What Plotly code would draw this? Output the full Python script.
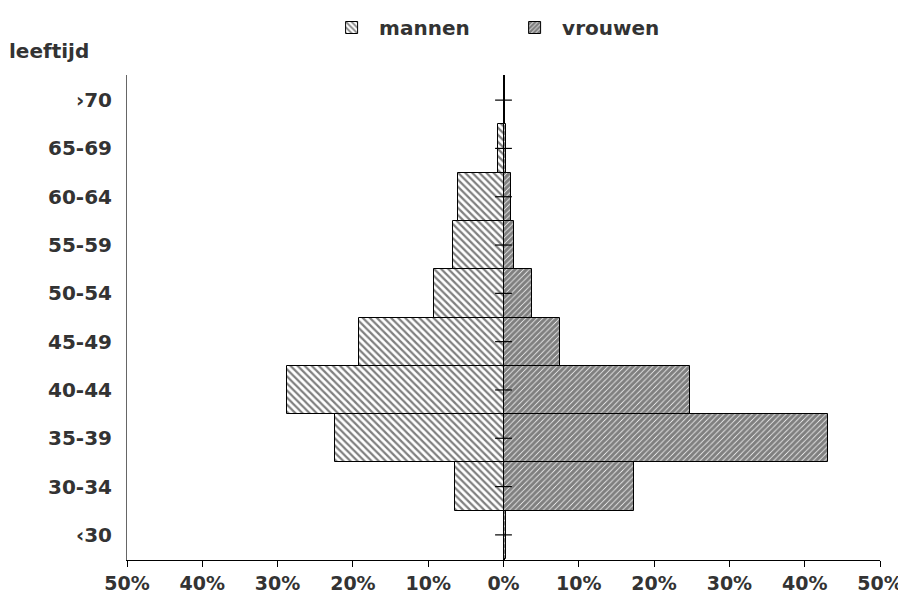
import plotly.graph_objects as go

categories = ["‹30", "30-34", "35-39", "40-44", "45-49", "50-54", "55-59", "60-64", "65-69", "›70"]
mannen = [0.0, 6.5, 22.4, 28.7, 19.2, 9.2, 6.7, 6.0, 0.7, 0.0]
vrouwen = [0.3, 17.3, 43.1, 24.8, 7.5, 3.8, 1.4, 1.0, 0.3, 0.0]
x_ticks = [-50, -40, -30, -20, -10, 0, 10, 20, 30, 40, 50]
x_ticktext = ["50%", "40%", "30%", "20%", "10%", "0%", "10%", "20%", "30%", "40%", "50%"]

FONT = "DejaVu Sans"
TXT = "#333333"

fig = go.Figure()
fig.add_trace(go.Bar(
    y=categories, x=[-v for v in mannen], orientation="h", name="mannen",
    marker=dict(color="white", line=dict(color="black", width=1),
                pattern=dict(shape="\\", size=5, solidity=0.45, fgcolor="black", bgcolor="white")),
))
fig.add_trace(go.Bar(
    y=categories, x=vrouwen, orientation="h", name="vrouwen",
    marker=dict(color="white", line=dict(color="black", width=1),
                pattern=dict(shape="/", size=4, solidity=0.8, fgcolor="black", bgcolor="white")),
))
fig.add_trace(go.Scatter(
    y=categories, x=[0] * len(categories), mode="markers", showlegend=False,
    marker=dict(symbol="line-ew", size=12, line=dict(color="black", width=1.2)),
    hoverinfo="skip",
))

# page body has an 8px default margin: compensate so the plot lands where the reference has it
fig.update_layout(
    width=898, height=596,
    margin=dict(l=119, r=26, t=67, b=44),
    paper_bgcolor="white", plot_bgcolor="white",
    barmode="relative", bargap=0,
    font=dict(family=FONT, size=17, color=TXT),
    legend=dict(orientation="h", x=0.352, xanchor="left", xref="container",
                y=1.0, yanchor="top", yref="container",
                font=dict(family=FONT, size=20, color=TXT, weight="bold"),
                itemwidth=45, entrywidth=123, entrywidthmode="pixels",
                traceorder="normal"),
    xaxis=dict(range=[-50, 50], tickvals=x_ticks, ticktext=x_ticktext,
               showgrid=False, zeroline=True, zerolinecolor="black", zerolinewidth=2,
               showline=True, linecolor="black", linewidth=1, automargin=False,
               ticks="outside", ticklen=6, tickcolor="black", ticklabelstandoff=0,
               tickfont=dict(family=FONT, size=19, color=TXT, weight="bold")),
    yaxis=dict(type="category", range=[-0.52, 9.52], showgrid=False, automargin=False,
               showline=True, linecolor="#666666", linewidth=1,
               ticks="", ticklabelstandoff=10,
               tickfont=dict(family=FONT, size=20, color=TXT, weight="bold")),
    annotations=[dict(text="leeftijd", xref="paper", yref="paper",
                      x=-0.16, y=1.05, xanchor="left", yanchor="middle", showarrow=False,
                      font=dict(family=FONT, size=20, color=TXT, weight="bold"))],
)

fig.write_html("out.html")
